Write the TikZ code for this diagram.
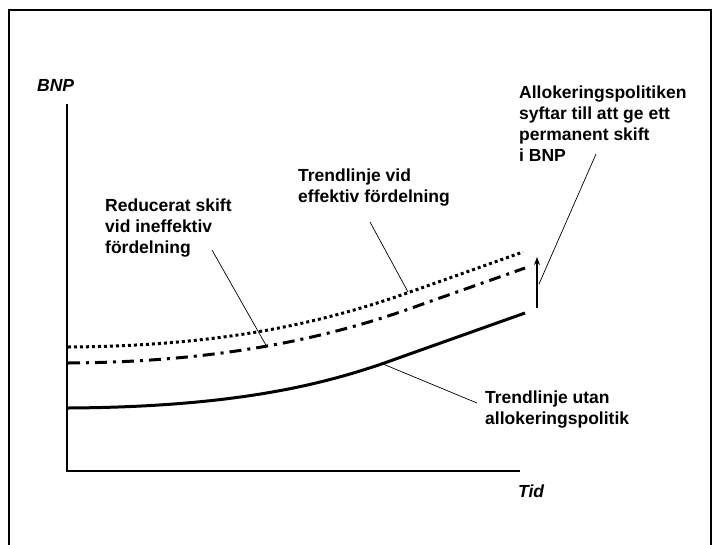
\documentclass[tikz,border=0pt]{standalone}
\usepackage{fontspec}
\setmainfont{Liberation Sans}
\usetikzlibrary{arrows.meta}

\begin{document}
\begin{tikzpicture}[
  >={Stealth[length=8pt,width=6pt]},
  x=1pt, y=-1pt,
  axis/.style={draw=black,line width=1.2pt},
  trend/.style={draw=black,line width=3pt},
  leader/.style={draw=black,line width=0.7pt},
  lbl/.style={anchor=north west,inner sep=0pt,align=left,font=\fontsize{17.5}{21}\selectfont\bfseries},
  axlbl/.style={anchor=base west,inner sep=0pt,font=\fontsize{17.5}{21}\selectfont\bfseries\itshape}
]

\useasboundingbox (0,0) rectangle (720,544);
\draw[line width=2.2pt] (9,560) -- (9,10) -- (711,10) -- (711,560);

% axes
\coordinate (origin) at (67,471);
\coordinate (ytop) at (67,104);
\coordinate (xend) at (520,471);
\draw[axis] (ytop) -- (origin) -- (xend);
\node[axlbl] (bnp) at (37,91) {BNP};
\node[axlbl] (tid) at (518,497) {Tid};

% trend lines
\draw[trend,dash pattern=on 3pt off 3pt]
  (68,347) .. controls (225,346) and (325,322) .. (410,292) -- (523,252);
\draw[trend,dash pattern=on 12pt off 6pt on 3pt off 6pt]
  (68,363) .. controls (220,362) and (330,338) .. (420,305) -- (525,268);
\draw[trend]
  (68,408) .. controls (230,407) and (320,386) .. (390,361) -- (525,313);

% shift arrow
\coordinate (shiftlow) at (537,308);
\coordinate (shifttop) at (537,257);
\draw[->,line width=1.5pt] (shiftlow) -- (shifttop);

% labels
\node[lbl] (alloc) at (519,86) {Allokeringspolitiken\\syftar till att ge ett\\permanent skift\\i BNP};
\node[lbl] (eff) at (298,169) {Trendlinje vid\\effektiv fördelning};
\node[lbl] (ineff) at (105,199) {Reducerat skift\\vid ineffektiv\\fördelning};
\node[lbl] (utan) at (485,391) {Trendlinje utan\\allokeringspolitik};

% leaders
\coordinate (allocfoot) at (596,154);
\coordinate (allocend) at (539,284);
\coordinate (efffoot) at (370,222);
\coordinate (effend) at (408,292);
\coordinate (inefffoot) at (212,250);
\coordinate (ineffend) at (267,347);
\coordinate (utanfoot) at (477,403);
\coordinate (utanend) at (383,364);
\draw[leader] (allocfoot) -- (allocend);
\draw[leader] (efffoot) -- (effend);
\draw[leader] (inefffoot) -- (ineffend);
\draw[leader] (utanfoot) -- (utanend);

\end{tikzpicture}
\end{document}
